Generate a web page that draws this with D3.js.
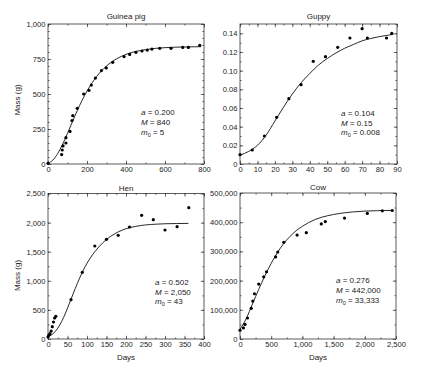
<!DOCTYPE html>
<html>
<head>
<meta charset="utf-8">
<script src="https://cdn.jsdelivr.net/npm/d3@7"></script>
<style>
  body { margin: 0; background: #fff; }
  svg text { font-family: 'Liberation Sans', Arial, sans-serif; fill: #222; }
</style>
</head>
<body>
<div id="chart"></div>
<script>
const WIDTH = 432;
const HEIGHT = 370;

// Guinea pig
const guineaDays = [0, 70, 73, 77, 92, 92, 113, 123, 127, 150, 183, 210, 222, 243, 274, 299, 332, 390, 419, 451, 482, 509, 533, 573, 631, 691, 720, 778];
const guineaMass = [5, 67, 100, 129, 150, 188, 233, 310, 345, 398, 500, 526, 564, 614, 667, 686, 726, 767, 783, 798, 807, 814, 821, 826, 826, 833, 833, 848];
const guineaCurveDays = [0, 25, 50, 75, 100, 125, 150, 175, 200, 250, 300, 350, 400, 500, 600, 700, 785];
const guineaCurveMass = [5, 28, 75, 141, 219, 301, 381, 455, 521, 626, 700, 750, 783, 817, 831, 836, 838];
const guineaXTicks = [0, 200, 400, 600, 800];
const guineaYTicks = [0, 250, 500, 750, 1000];

// Guppy
const guppyDays = [0, 7, 14, 21, 28, 35, 42, 49, 56, 63, 70, 73, 84, 87];
const guppyMass = [0.010, 0.015, 0.030, 0.050, 0.070, 0.085, 0.110, 0.115, 0.125, 0.135, 0.145, 0.135, 0.135, 0.140];
const guppyCurveDays = [0, 5, 10, 15, 20, 25, 30, 35, 40, 45, 50, 55, 60, 65, 70, 75, 80, 85, 88];
const guppyCurveMass = [0.0095, 0.0135, 0.020, 0.031, 0.046, 0.061, 0.075, 0.087, 0.097, 0.106, 0.113, 0.119, 0.124, 0.128, 0.132, 0.1345, 0.1365, 0.138, 0.139];
const guppyXTicks = [0, 10, 20, 30, 40, 50, 60, 70, 80, 90];
const guppyYTicks = [0, 0.02, 0.04, 0.06, 0.08, 0.10, 0.12, 0.14];

// Hen
const henDays = [0, 2, 5, 8, 11, 14, 17, 20, 59, 88, 120, 150, 180, 209, 240, 270, 300, 331, 361];
const henMass = [34, 63, 92, 137, 212, 292, 361, 389, 676, 1145, 1598, 1712, 1781, 1924, 2125, 2050, 1873, 1930, 2257];
const henCurveDays = [0, 10, 20, 30, 40, 50, 60, 70, 80, 90, 100, 120, 140, 160, 180, 200, 225, 250, 275, 300, 330, 360];
const henCurveMass = [40, 75, 140, 240, 370, 530, 700, 870, 1030, 1175, 1300, 1500, 1650, 1760, 1840, 1895, 1935, 1960, 1972, 1980, 1984, 1986];
const henXTicks = [0, 50, 100, 150, 200, 250, 300, 350, 400];
const henYTicks = [0, 500, 1000, 1500, 2000, 2500];

// Cow
const cowDays = [0, 55, 80, 120, 180, 205, 232, 300, 380, 425, 570, 605, 702, 915, 1063, 1303, 1367, 1675, 2040, 2281, 2440];
const cowMass = [30000, 38000, 50000, 72000, 105000, 130000, 155000, 188000, 213000, 230000, 281000, 298000, 331000, 356000, 364000, 394000, 402000, 414000, 430000, 439000, 440000];
const cowCurveDays = [0, 100, 200, 300, 400, 500, 600, 700, 800, 900, 1000, 1200, 1400, 1600, 1800, 2000, 2200, 2440];
const cowCurveMass = [33000, 70000, 120000, 170000, 217000, 259000, 296000, 327000, 351000, 371000, 386000, 409000, 422000, 430000, 435000, 438000, 439500, 440500];
const cowXTicks = [0, 500, 1000, 1500, 2000, 2500];
const cowYTicks = [0, 100000, 200000, 300000, 400000, 500000];

const svg = d3.select('#chart').append('svg')
  .attr('width', WIDTH)
  .attr('height', HEIGHT);

const commaFmt = d3.format(',');
const guppyFmt = d => (d === 0 ? '0' : d3.format('.2f')(d));

const drawPanel = p => {
  const g = svg.append('g').attr('transform', `translate(${p.left},${p.top})`);
  const w = p.right - p.left;
  const h = p.bottom - p.top;

  const x = d3.scaleLinear().domain(p.xDomain).range([0, w]);
  const y = d3.scaleLinear().domain(p.yDomain).range([h, 0]);

  const minorX = d3.range(0, Math.round(p.xDomain[1] / p.xMinor) + 1).map(i => i * p.xMinor);
  const minorY = d3.range(0, Math.round(p.yDomain[1] / p.yMinor) + 1).map(i => i * p.yMinor);

  const axes = [
    [d3.axisBottom(x), `translate(0,${h})`, minorX, p.xTicks, p.xFmt],
    [d3.axisTop(x), 'translate(0,0)', minorX, p.xTicks, null],
    [d3.axisLeft(y), 'translate(0,0)', minorY, p.yTicks, p.yFmt],
    [d3.axisRight(y), `translate(${w},0)`, minorY, p.yTicks, null],
  ];

  axes.forEach(([axis, tr, minor, major, fmt]) => {
    g.append('g')
      .attr('transform', tr)
      .call(axis.tickValues(minor).tickSize(-1.6).tickFormat(''))
      .call(a => a.select('.domain').remove())
      .selectAll('line').attr('stroke', '#333').attr('stroke-width', 0.7);

    const ax = g.append('g')
      .attr('transform', tr)
      .call(axis.tickValues(major).tickSize(-3.2).tickPadding(2.5).tickFormat(fmt || (() => '')))
      .call(a => a.select('.domain').remove());
    ax.selectAll('line').attr('stroke', '#333').attr('stroke-width', 0.7);
    ax.selectAll('text')
      .style('font-family', "'Liberation Sans', Arial, sans-serif")
      .style('font-size', '7.6px')
      .attr('fill', '#222');
  });

  g.append('rect')
    .attr('width', w)
    .attr('height', h)
    .attr('fill', 'none')
    .attr('stroke', '#333')
    .attr('stroke-width', 0.8);

  const curve = d3.line()
    .x(d => x(d[0]))
    .y(d => y(d[1]))
    .curve(d3.curveMonotoneX);

  g.append('path')
    .datum(d3.zip(p.curveDays, p.curveMass))
    .attr('d', curve)
    .attr('fill', 'none')
    .attr('stroke', '#111')
    .attr('stroke-width', 0.9);

  g.selectAll('circle.pt')
    .data(d3.zip(p.days, p.mass))
    .enter()
    .append('circle')
    .attr('class', 'pt')
    .attr('cx', d => x(d[0]))
    .attr('cy', d => y(d[1]))
    .attr('r', 1.6)
    .attr('fill', '#000');

  g.append('text')
    .attr('x', w / 2)
    .attr('y', p.titleY)
    .attr('text-anchor', 'middle')
    .style('font-size', '8px')
    .text(p.title);

  // parameter block
  const note = g.append('g').attr('transform', `translate(${p.noteX},${p.noteY})`);
  const line1 = note.append('text').attr('y', 0).style('font-size', '8px');
  line1.append('tspan').style('font-style', 'italic').text('a');
  line1.append('tspan').text(` = ${p.a}`);
  const line2 = note.append('text').attr('y', 10).style('font-size', '8px');
  line2.append('tspan').style('font-style', 'italic').text('M');
  line2.append('tspan').text(` = ${p.M}`);
  const line3 = note.append('text').attr('y', 19.5).style('font-size', '8px');
  line3.append('tspan').style('font-style', 'italic').text('m');
  line3.append('tspan').attr('dy', 2).style('font-size', '5.5px').text('0');
  line3.append('tspan').attr('dy', -2).text(` = ${p.m0}`);

  if (p.yLabel) {
    g.append('text')
      .attr('transform', `translate(${p.yLabelX},${p.yLabelY}) rotate(-90)`)
      .attr('text-anchor', 'middle')
      .style('font-size', '8px')
      .text(p.yLabel);
  }
  if (p.xLabel) {
    g.append('text')
      .attr('x', w / 2)
      .attr('y', h + 21)
      .attr('text-anchor', 'middle')
      .style('font-size', '8px')
      .text(p.xLabel);
  }
};

drawPanel({
  title: 'Guinea pig', left: 48, right: 204, top: 24, bottom: 164, titleY: -5.5,
  xDomain: [0, 800], yDomain: [0, 1000], xMinor: 100, yMinor: 50,
  xTicks: guineaXTicks, yTicks: guineaYTicks, xFmt: commaFmt, yFmt: commaFmt,
  days: guineaDays, mass: guineaMass, curveDays: guineaCurveDays, curveMass: guineaCurveMass,
  a: '0.200', M: '840', m0: '5', noteX: 93, noteY: 91,
  yLabel: 'Mass (g)', yLabelX: -28, yLabelY: 76,
});

drawPanel({
  title: 'Guppy', left: 240, right: 397, top: 24, bottom: 164, titleY: -5.5,
  xDomain: [0, 90], yDomain: [0, 0.15], xMinor: 5, yMinor: 0.01,
  xTicks: guppyXTicks, yTicks: guppyYTicks, xFmt: commaFmt, yFmt: guppyFmt,
  days: guppyDays, mass: guppyMass, curveDays: guppyCurveDays, curveMass: guppyCurveMass,
  a: '0.104', M: '0.15', m0: '0.008', noteX: 101, noteY: 91.5,
});

drawPanel({
  title: 'Hen', left: 48, right: 204, top: 193.5, bottom: 339, titleY: -3,
  xDomain: [0, 400], yDomain: [0, 2500], xMinor: 25, yMinor: 250,
  xTicks: henXTicks, yTicks: henYTicks, xFmt: commaFmt, yFmt: commaFmt,
  days: henDays, mass: henMass, curveDays: henCurveDays, curveMass: henCurveMass,
  a: '0.502', M: '2,050', m0: '43', noteX: 107, noteY: 91,
  yLabel: 'Mass (g)', yLabelX: -28, yLabelY: 82, xLabel: 'Days',
});

drawPanel({
  title: 'Cow', left: 240, right: 396, top: 193, bottom: 339, titleY: -3,
  xDomain: [0, 2500], yDomain: [0, 500000], xMinor: 250, yMinor: 50000,
  xTicks: cowXTicks, yTicks: cowYTicks, xFmt: commaFmt, yFmt: commaFmt,
  days: cowDays, mass: cowMass, curveDays: cowCurveDays, curveMass: cowCurveMass,
  a: '0.276', M: '442,000', m0: '33,333', noteX: 96, noteY: 90,
  xLabel: 'Days',
});
</script>
</body>
</html>
